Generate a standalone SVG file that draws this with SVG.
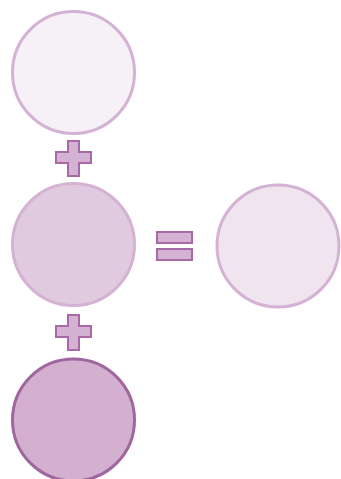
<svg xmlns="http://www.w3.org/2000/svg" width="341" height="479" viewBox="0 0 341 479">
<style>
.c{stroke-width:3}
.op{fill:#d4b2d3;stroke:#a76aa6;stroke-width:2}
</style>
<rect width="341" height="479" fill="#fff"/>
<g id="circle1"><circle class="c" cx="73.5" cy="72.5" r="61" fill="#f6f0f7" stroke="#d4b2d3"/></g>
<g id="circle2"><circle class="c" cx="73.5" cy="244.5" r="61" fill="#e0cadf" stroke="#d4b2d3"/></g>
<g id="circle3"><circle class="c" cx="73.5" cy="420" r="61" fill="#d3b0cf" stroke="#a066a0"/></g>
<g id="result"><circle class="c" cx="278" cy="246" r="61" fill="#f0e4ef" stroke="#d4b2d3"/></g>
<g id="plus1"><path class="op" d="M68,141H79V152H91V163H79V176H68V163H56V152H68Z"/></g>
<g id="plus2"><path class="op" d="M68,315H79V326H91V337H79V350H68V337H56V326H68Z"/></g>
<g id="equals"><rect class="op" x="157" y="232" width="35" height="11"/><rect class="op" x="157" y="249" width="35" height="11"/></g>
</svg>
